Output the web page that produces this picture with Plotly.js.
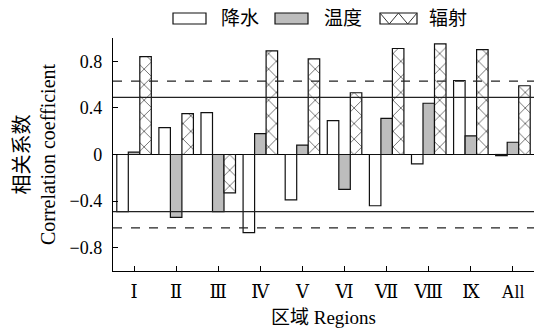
<!DOCTYPE html>
<html><head><meta charset="utf-8">
<script src="https://cdn.plot.ly/plotly-3.0.1.min.js"></script>
<style>body{margin:0;padding:0;background:#fff}#chart{width:534px;height:335px}</style>
</head><body><div id="chart"></div>
<script>
const regions = ["Ⅰ","Ⅱ","Ⅲ","Ⅳ","Ⅴ","Ⅵ","Ⅶ","Ⅷ","Ⅸ","All"];
const precipitation = [-0.49, 0.23, 0.36, -0.67, -0.39, 0.29, -0.44, -0.08, 0.635, -0.01];
const temperature = [0.02, -0.54, -0.49, 0.18, 0.08, -0.30, 0.31, 0.44, 0.16, 0.105];
const radiation = [0.84, 0.35, -0.33, 0.89, 0.82, 0.53, 0.91, 0.95, 0.90, 0.59];
const seriesNames = ["降水","温度","辐射"];
const solidLevel = 0.49;
const dashedLevel = 0.63;

const font = "'Liberation Serif', 'DejaVu Serif', 'Noto Sans CJK SC', serif";
const outline = {color:"#111", width:1.2};
const traces = [
  {type:"bar", name:seriesNames[0], x:regions, y:precipitation,
   marker:{color:"#ffffff", line:outline}},
  {type:"bar", name:seriesNames[1], x:regions, y:temperature,
   marker:{color:"#bdbdbd", line:outline}},
  {type:"bar", name:seriesNames[2], x:regions, y:radiation,
   marker:{color:"#ffffff", line:outline,
     pattern:{shape:"x", size:11, solidity:0.12, fgcolor:"#333", bgcolor:"#ffffff", fillmode:"replace"}}}
];
function hline(v, dash){
  return {type:"line", xref:"paper", x0:0, x1:1, yref:"y", y0:v, y1:v,
          line:{color:"#222", width:1.3, dash:dash}, layer:"above"};
}
// legend drawn in pixel space -> paper coords
const L = 113, PW = 421, T = 38, PH = 233;
const px = x => (x - L) / PW;
const py = y => (T + PH - y) / PH;
const legendShapes = [];
const legendAnns = [];
const boxY0 = 13, boxY1 = 24;
const boxes = [[173, 206, "#ffffff"], [275, 308, "#bdbdbd"], [380, 417, "#ffffff"]];
const textX = [219, 322, 427];
boxes.forEach((b, i) => {
  legendShapes.push({type:"rect", xref:"paper", yref:"paper", x0:px(b[0]), x1:px(b[1]),
    y0:py(boxY1), y1:py(boxY0), fillcolor:b[2], line:{color:"#111", width:1.2}, layer:"above"});
  legendAnns.push({xref:"paper", yref:"paper", x:px(textX[i]), y:py(18), xanchor:"left", yanchor:"middle",
    text:seriesNames[i], showarrow:false, font:{size:19, family:font, color:"#000"}});
});
// zigzag hatch in third legend box
{
  const b = boxes[2], w = b[1]-b[0];
  const pts = [[0,boxY0],[0.25,boxY1],[0.5,boxY0],[0.75,boxY1],[1,boxY0]];
  for (let k = 0; k < pts.length-1; k++) {
    legendShapes.push({type:"line", xref:"paper", yref:"paper",
      x0:px(b[0]+pts[k][0]*w), x1:px(b[0]+pts[k+1][0]*w), y0:py(pts[k][1]), y1:py(pts[k+1][1]),
      line:{color:"#333", width:1}, layer:"above"});
  }
}
const layout = {
  width:534, height:335,
  margin:{l:113, r:0, t:38, b:64},
  paper_bgcolor:"#fff", plot_bgcolor:"#fff",
  font:{family:font, size:18, color:"#000"},
  barmode:"group", bargap:0.18, bargroupgap:0,
  showlegend:false,
  xaxis:{type:"category", range:[-0.5, 9.5], showline:true, linecolor:"#000", linewidth:1.2,
         ticks:"inside", ticklen:5, tickcolor:"#000", showgrid:false, zeroline:false,
         tickfont:{size:18, family:font}, ticklabelstandoff:4,
         title:{text:"区域 Regions", font:{size:19, family:font}, standoff:10}},
  yaxis:{range:[-1, 1.0], tickvals:[-0.8,-0.4,0,0.4,0.8], ticktext:["−0.8","−0.4","0","0.4","0.8"],
         showline:true, linecolor:"#000", linewidth:1.2,
         ticks:"inside", ticklen:5, tickcolor:"#000", showgrid:false,
         zeroline:true, zerolinecolor:"#000", zerolinewidth:1.2,
         tickfont:{size:18, family:font}, ticklabelstandoff:6,
         title:{text:"相关系数<br>Correlation coefficient", font:{size:20, family:font}, standoff:8}},
  shapes:[hline(solidLevel,"solid"), hline(-solidLevel,"solid"),
          hline(dashedLevel,"dash"), hline(-dashedLevel,"dash")].concat(legendShapes),
  annotations:legendAnns
};
Plotly.newPlot("chart", traces, layout, {staticPlot:true, displayModeBar:false});
</script></body></html>
